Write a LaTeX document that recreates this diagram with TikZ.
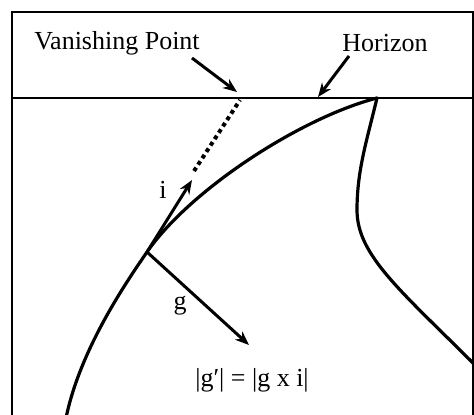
\documentclass[tikz,border=0pt]{standalone}
\usepackage{fontspec}
\setmainfont{Liberation Serif}
\usetikzlibrary{arrows.meta}
\tikzset{
  frame/.style={line width=2.6pt},
  curve/.style={line width=3.2pt, line cap=round, line join=round},
  vec/.style={line width=3pt, -{Stealth[length=14pt,width=11pt]}},
  pointer/.style={line width=3pt, -{Stealth[length=14pt,width=11pt]}},
  dots/.style={line width=4pt, dash pattern=on 4pt off 3.6pt},
  lbl/.style={font=\fontsize{26}{30}\selectfont, inner sep=0pt}
}
\begin{document}
\begin{tikzpicture}[x=1pt,y=-1pt]
\useasboundingbox (0,0) rectangle (474,415);
% frame
\coordinate (bl) at (12,418);
\coordinate (tl) at (12,12);
\coordinate (tr) at (473,12);
\coordinate (br) at (473,418);
\coordinate (hl) at (12,98);
\coordinate (hr) at (473,98);
\draw[frame] (bl) -- (tl) -- (tr) -- (br);
\draw[frame] (hl) -- (hr);
% key points
\coordinate (apex) at (377,98);
\coordinate (P) at (147,252);
\coordinate (bot) at (66,418);
\coordinate (waist) at (357,210);
\coordinate (rend) at (474,364);
\coordinate (itip) at (192,180);
\coordinate (gtip) at (249,345);
\coordinate (vp) at (240,100);
\coordinate (dotstart) at (194,171);
% left curve
\draw[curve] (apex) .. controls (300,118) and (190,190) .. (P)
                    .. controls (125,284) and (80,350) .. (bot);
% right curve
\draw[curve] (apex) .. controls (367,140) and (357,170) .. (waist)
                    .. controls (357,255) and (400,290) .. (rend);
% vectors
\draw[vec] (P) -- (itip);
\draw[vec] (P) -- (gtip);
\draw[dots] (dotstart) -- (vp);
% labels
\node[lbl] (vptext) at (117,43) {Vanishing Point};
\node[lbl] (hortext) at (385,43) {Horizon};
\coordinate (vpa) at (192,58);
\coordinate (vpb) at (237,92);
\coordinate (ha) at (349,56);
\coordinate (hb) at (318,97);
\draw[pointer] (vpa) -- (vpb);
\draw[pointer] (ha) -- (hb);
\node[lbl] (ilbl) at (163,190) {i};
\node[lbl] (glbl) at (180,306) {g};
\node[lbl] (eq) at (252,380) {|g′| = |g x i|};
\end{tikzpicture}
\end{document}
